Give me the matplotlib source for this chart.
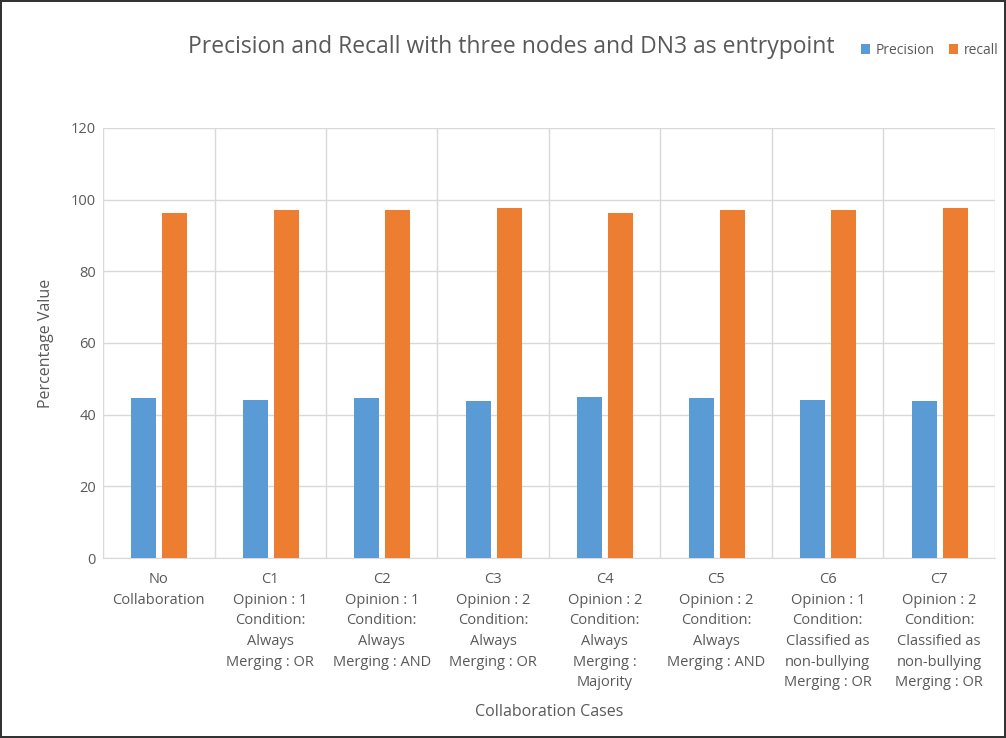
import matplotlib.pyplot as plt
import numpy as np

plt.rcParams['font.family'] = ['Open Sans', 'DejaVu Sans']

cases = [
    'No\nCollaboration',
    'C1\nOpinion : 1\nCondition:\nAlways\nMerging : OR',
    'C2\nOpinion : 1\nCondition:\nAlways\nMerging : AND',
    'C3\nOpinion : 2\nCondition:\nAlways\nMerging : OR',
    'C4\nOpinion : 2\nCondition:\nAlways\nMerging :\nMajority',
    'C5\nOpinion : 2\nCondition:\nAlways\nMerging : AND',
    'C6\nOpinion : 1\nCondition:\nClassified as\nnon-bullying\nMerging : OR',
    'C7\nOpinion : 2\nCondition:\nClassified as\nnon-bullying\nMerging : OR',
]
precision = [44.6, 44.2, 44.6, 43.7, 45.0, 44.6, 44.2, 43.7]
recall = [96.2, 97.1, 97.1, 97.6, 96.2, 97.1, 97.1, 97.6]

blue = '#5b9bd5'
orange = '#ed7d31'
grey = '#595959'

fig = plt.figure(figsize=(10.06, 7.38), dpi=100)
fig.patch.set_edgecolor('#333333')
fig.patch.set_linewidth(1.5)
ax = fig.add_axes([0.1024, 0.2439, 0.8866, 0.5827])

x = np.arange(len(cases))
w = 0.225
ax.bar(x - 0.135, precision, w, color=blue, label='Precision', zorder=3)
ax.bar(x + 0.145, recall, w, color=orange, label='recall', zorder=3)

ax.set_xlim(-0.5, len(cases) - 0.5)
ax.set_ylim(0, 120)
ax.set_yticks(range(0, 121, 20))
ax.set_xticks(x)
ax.set_xticklabels(cases, fontsize=10.5, color=grey, linespacing=1.52)
ax.tick_params(axis='both', length=0, labelcolor=grey)
ax.tick_params(axis='y', labelsize=10.5, pad=5)
ax.tick_params(axis='x', pad=10)

# horizontal grid plus vertical separators between cases
ax.grid(axis='y', color='#d9d9d9', linewidth=1, zorder=0)
for b in np.arange(-0.5, len(cases), 1.0):
    ax.axvline(b, color='#d9d9d9', linewidth=1, zorder=0)

for s in ['top', 'right', 'left']:
    ax.spines[s].set_visible(False)
ax.spines['bottom'].set_color('#d9d9d9')

ax.set_ylabel('Percentage Value', fontsize=11.5, color=grey, labelpad=12)
fig.text(0.546, 0.035, 'Collaboration Cases', fontsize=11.5, color=grey,
         ha='center', va='center')

fig.text(0.508, 0.936, 'Precision and Recall with three nodes and DN3 as entrypoint',
         fontsize=16.5, color=grey, ha='center', va='center')
fig.legend(loc='center left', bbox_to_anchor=(0.843, 0.932), ncol=2, frameon=False,
           fontsize=10, labelcolor=grey, handlelength=0.7, handleheight=0.7,
           handletextpad=0.4, columnspacing=1.0)

fig.savefig('out.png', dpi=100)
